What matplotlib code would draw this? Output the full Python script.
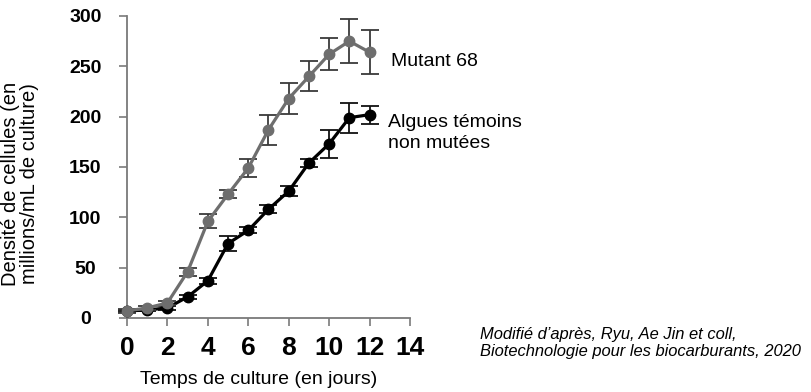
import matplotlib
matplotlib.use("Agg")
import matplotlib.pyplot as plt

plt.rcParams['font.family'] = ['Liberation Sans', 'DejaVu Sans']

days = [0, 1, 2, 3, 4, 5, 6, 7, 8, 9, 10, 11, 12]
mutant = [7, 10, 15, 46, 96, 123, 149, 187, 218, 240, 262, 275, 264]
mutant_err = [2, 2, 2, 4, 7, 4, 9, 15, 15, 15, 16, 22, 22]
control = [7, 8, 10, 21, 37, 74, 87, 108, 126, 154, 173, 199, 202]
control_err = [1, 1, 2, 2, 3, 7, 3, 4, 5, 4, 14, 15, 9]

yticks = [0, 50, 100, 150, 200, 250, 300]
xticks = [0, 2, 4, 6, 8, 10, 12, 14]

label_mutant = "Mutant 68"
label_control = "Algues témoins\nnon mutées"
ylabel = "Densité de cellules (en\nmillions/mL de culture)"
xlabel = "Temps de culture (en jours)"
source = "Modifié d’après, Ryu, Ae Jin et coll,\nBiotechnologie pour les biocarburants, 2020"

W, H = 812, 392
fig = plt.figure(figsize=(W / 100, H / 100), dpi=100)
ax = fig.add_axes([127 / W, 1 - 318 / H, (410 - 127) / W, (318 - 16) / H])

gray = '#6e6e6e'
ax.errorbar(days, control, yerr=control_err, color='black', ecolor='#111111',
            lw=2.3, marker='o', ms=7.5, capsize=6.5, elinewidth=1.3, capthick=1.3,
            clip_on=False, zorder=3)
ax.errorbar(days, mutant, yerr=mutant_err, color=gray, ecolor='#3a3a3a',
            lw=2.3, marker='o', ms=7.5, capsize=6.5, elinewidth=1.3, capthick=1.3,
            clip_on=False, zorder=4)

ax.set_xlim(0, 14)
ax.set_ylim(0, 300)
for s in ['top', 'right']:
    ax.spines[s].set_visible(False)
for s in ['left', 'bottom']:
    ax.spines[s].set_color('#7a7a7a')
    ax.spines[s].set_linewidth(1.3)

ax.set_yticks(yticks)
ax.set_xticks(xticks)
ax.tick_params(axis='both', colors='#7a7a7a', length=6, width=1.2, direction='out')
ax.tick_params(axis='y', labelcolor='black', labelsize=14, pad=24)
ax.tick_params(axis='x', labelcolor='black', labelsize=19, pad=7)
for t in ax.get_yticklabels():
    t.set_fontweight('bold')
    t.set_horizontalalignment('center')
for t in ax.get_xticklabels():
    t.set_fontweight('bold')

fig.text(259 / W, 1 - 379 / H, xlabel, ha='center', va='center', fontsize=14)
fig.text(20 / W, 1 - 184 / H, ylabel, ha='center', va='center', rotation=90,
         fontsize=14.5, linespacing=1.05)

fig.text(391 / W, 1 - 61 / H, label_mutant, ha='left', va='center', fontsize=14)
fig.text(388 / W, 1 - 133 / H, label_control, ha='left', va='center', fontsize=14,
         linespacing=1.35)

fig.text(480 / W, 1 - 343 / H, source, ha='left', va='center', fontsize=11.9,
         style='italic', linespacing=1.15)

fig.savefig('out.png', dpi=100)
